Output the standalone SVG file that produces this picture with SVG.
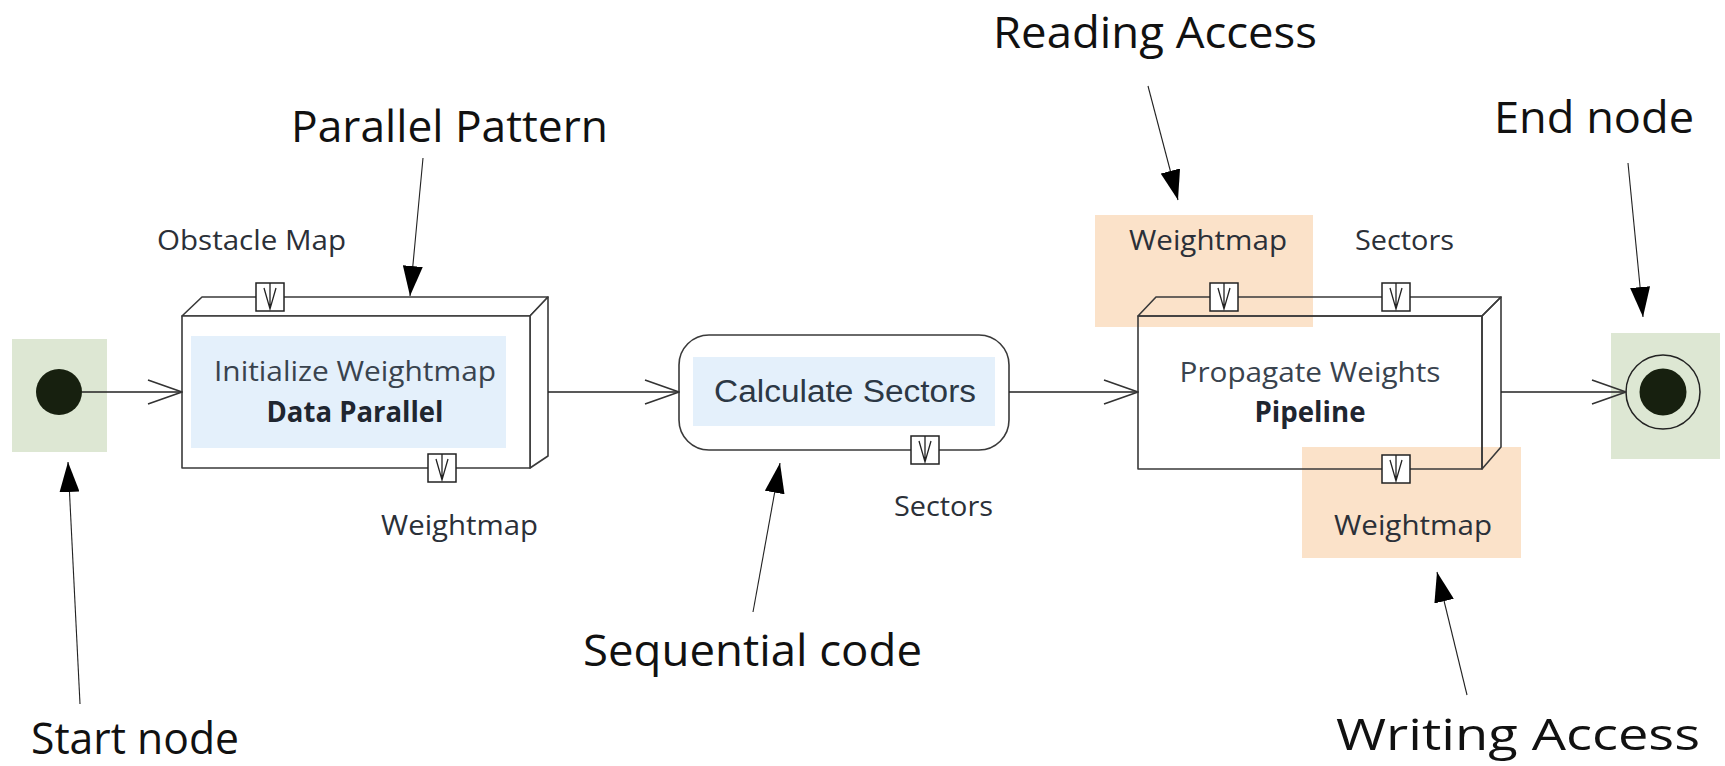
<svg xmlns="http://www.w3.org/2000/svg" xmlns:xlink="http://www.w3.org/1999/xlink" width="1725" height="766" viewBox="0 0 1725 766">
<style>
.bg{fill:#ffffff}
.green{fill:#dde7d3}
.blue{fill:#e4f0fb}
.orange{fill:#fbe2c9}
.edge{fill:none;stroke:#3a3a3a;stroke-width:1.6;stroke-linejoin:round}
.face{fill:#ffffff;stroke:#3a3a3a;stroke-width:1.6;stroke-linejoin:round}
.flow{fill:none;stroke:#222;stroke-width:1.6}
.call{fill:none;stroke:#222;stroke-width:1.1}
.big{font-family:"Open Sans","Noto Sans",sans-serif;font-size:44px;fill:#111}
.pinlbl{font-family:"Open Sans","Noto Sans",sans-serif;font-size:27px;fill:#2b3038}
.nodelbl{font-family:"Open Sans","Noto Sans",sans-serif;font-size:28px;fill:#39434e}
.nodebold{font-family:"Open Sans","Noto Sans",sans-serif;font-size:28px;font-weight:bold;fill:#1f2630}
.arial{font-family:"Liberation Sans",Arial,sans-serif;font-size:31px;fill:#2c3845}
</style>
<defs>
<marker id="open" viewBox="0 0 36 28" refX="35" refY="14" markerWidth="36" markerHeight="28" markerUnits="userSpaceOnUse" orient="auto">
<path d="M1,2 L35,14 L1,26" fill="none" stroke="#333" stroke-width="1.6"/>
</marker>
<marker id="solid" viewBox="0 0 30 20" refX="30" refY="10" markerWidth="30" markerHeight="20" markerUnits="userSpaceOnUse" orient="auto">
<path d="M0,0 L30,10 L0,20 Z" fill="#000"/>
</marker>
<g id="pin">
<rect x="-14" y="-14" width="28" height="28" fill="#fff" stroke="#222" stroke-width="1.5"/>
<path d="M0,-14 L0,12 M-6,-9 L0,12 L6,-9" fill="none" stroke="#222" stroke-width="1.3"/>
</g>
</defs>
<rect class="bg" x="0" y="0" width="1725" height="766"/>

<g id="start-node">
<rect class="green" x="12" y="339" width="95" height="113"/>
<circle cx="59" cy="392" r="23" fill="#17200f"/>
</g>

<g id="init-weightmap">
<polygon class="face" points="182,316 202,297 548,297 530,316"/>
<polygon class="face" points="530,316 548,297 548,456 530,468"/>
<rect class="face" x="182" y="316" width="348" height="152"/>
<rect class="blue" x="191" y="336" width="315" height="112"/>
<text class="nodelbl" x="355" y="381" text-anchor="middle" textLength="282" lengthAdjust="spacingAndGlyphs">Initialize Weightmap</text>
<text class="nodebold" x="355" y="422" text-anchor="middle" textLength="177" lengthAdjust="spacingAndGlyphs">Data Parallel</text>
<use xlink:href="#pin" href="#pin" x="270" y="297"/>
<use xlink:href="#pin" href="#pin" x="442" y="468"/>
<text class="pinlbl" x="157" y="250" textLength="189" lengthAdjust="spacingAndGlyphs">Obstacle Map</text>
<text class="pinlbl" x="381" y="535" textLength="157" lengthAdjust="spacingAndGlyphs">Weightmap</text>
</g>

<g id="calculate-sectors">
<rect class="face" x="679" y="335" width="330" height="115" rx="30" ry="30"/>
<rect class="blue" x="693" y="357" width="302" height="69"/>
<text class="arial" x="845" y="402" text-anchor="middle" textLength="262" lengthAdjust="spacingAndGlyphs">Calculate Sectors</text>
<use xlink:href="#pin" href="#pin" x="925" y="450"/>
<text class="pinlbl" x="894" y="516" textLength="99" lengthAdjust="spacingAndGlyphs">Sectors</text>
</g>

<g id="propagate-weights">
<rect class="orange" x="1095" y="215" width="218" height="112"/>
<rect class="orange" x="1302" y="447" width="219" height="111"/>
<polygon class="edge" points="1138,316 1156,297 1501,297 1482,316"/>
<polygon class="edge" points="1482,316 1501,297 1501,447 1482,469"/>
<rect class="edge" x="1138" y="316" width="344" height="153"/>
<text class="nodelbl" x="1310" y="382" text-anchor="middle" textLength="261" lengthAdjust="spacingAndGlyphs">Propagate Weights</text>
<text class="nodebold" x="1310" y="422" text-anchor="middle" textLength="111" lengthAdjust="spacingAndGlyphs">Pipeline</text>
<use xlink:href="#pin" href="#pin" x="1224" y="297"/>
<use xlink:href="#pin" href="#pin" x="1396" y="297"/>
<use xlink:href="#pin" href="#pin" x="1396" y="469"/>
<text class="pinlbl" x="1129" y="250" textLength="158" lengthAdjust="spacingAndGlyphs">Weightmap</text>
<text class="pinlbl" x="1355" y="250" textLength="99" lengthAdjust="spacingAndGlyphs">Sectors</text>
<text class="pinlbl" x="1334" y="535" textLength="158" lengthAdjust="spacingAndGlyphs">Weightmap</text>
</g>

<g id="end-node">
<rect class="green" x="1611" y="333" width="109" height="126"/>
<circle cx="1663" cy="392" r="37" fill="none" stroke="#222" stroke-width="1.5"/>
<circle cx="1663" cy="392" r="23.5" fill="#17200f"/>
</g>

<g id="connectors">
<line class="flow" x1="82" y1="392" x2="182" y2="392" marker-end="url(#open)"/>
<line class="flow" x1="548" y1="392" x2="679" y2="392" marker-end="url(#open)"/>
<line class="flow" x1="1009" y1="392" x2="1138" y2="392" marker-end="url(#open)"/>
<line class="flow" x1="1501" y1="392" x2="1626" y2="392" marker-end="url(#open)"/>
<line class="call" x1="423" y1="158" x2="410" y2="296" marker-end="url(#solid)"/>
<line class="call" x1="80" y1="704" x2="68" y2="462" marker-end="url(#solid)"/>
<line class="call" x1="753" y1="612" x2="780" y2="463" marker-end="url(#solid)"/>
<line class="call" x1="1148" y1="86" x2="1178" y2="200" marker-end="url(#solid)"/>
<line class="call" x1="1628" y1="163" x2="1643" y2="317" marker-end="url(#solid)"/>
<line class="call" x1="1467" y1="695" x2="1437" y2="572" marker-end="url(#solid)"/>
</g>

<g id="annotations">
<text class="big" x="291" y="142" textLength="317" lengthAdjust="spacingAndGlyphs">Parallel Pattern</text>
<text class="big" x="993" y="48" textLength="324" lengthAdjust="spacingAndGlyphs">Reading Access</text>
<text class="big" x="1494" y="133" textLength="200" lengthAdjust="spacingAndGlyphs">End node</text>
<text class="big" x="31" y="754" textLength="208" lengthAdjust="spacingAndGlyphs">Start node</text>
<text class="big" x="583" y="666" textLength="339" lengthAdjust="spacingAndGlyphs">Sequential code</text>
<text class="big" x="1336" y="750" textLength="364" lengthAdjust="spacingAndGlyphs">Writing Access</text>
</g>
</svg>
